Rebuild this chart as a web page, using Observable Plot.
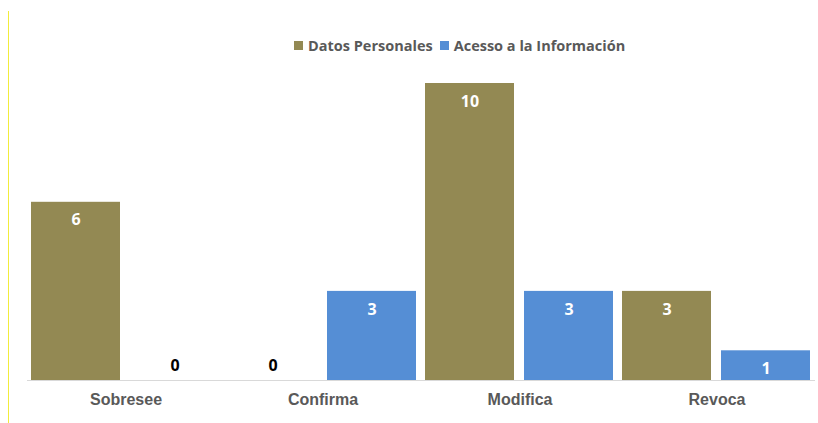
<!DOCTYPE html>
<html>
<head>
<meta charset="utf-8">
<script src="https://cdn.jsdelivr.net/npm/d3@7"></script>
<script src="https://cdn.jsdelivr.net/npm/@observablehq/plot@0.6"></script>
<style>
  html, body { margin: 0; padding: 0; background: #fff; }
  #wrap { position: relative; width: 818px; height: 423px; overflow: hidden; }
  #vline { position: absolute; left: 8px; top: 11px; width: 1px; height: 412px; background: #f2ec3c; }
  #legend { height: 60px; position: relative; font-family: "Open Sans", sans-serif; font-weight: 700; font-size: 14.5px; color: #595959; }
  #legend .items { position: absolute; left: 294px; top: 36px; display: flex; align-items: center; white-space: nowrap; }
  #legend .sw { width: 9px; height: 9px; display: inline-block; margin-right: 5px; }
  #legend .it { display: flex; align-items: center; margin-right: 7px; }
  #chart svg { display: block; }
</style>
</head>
<body>
<div id="wrap">
  <div id="vline"></div>
  <div id="legend"><div class="items"></div></div>
  <div id="chart"></div>
</div>
<script>
const categories = ["Sobresee", "Confirma", "Modifica", "Revoca"];
const series = ["Datos Personales", "Acesso a la Información"];
const datosPersonales = [6, 0, 10, 3];
const accesoInformacion = [0, 3, 3, 1];
const colors = ["#938953", "#558ED5"];

const data = categories.flatMap((c, i) => [
  {cat: c, serie: series[0], value: datosPersonales[i]},
  {cat: c, serie: series[1], value: accesoInformacion[i]}
]);

// legend
const items = document.querySelector("#legend .items");
series.forEach((s, i) => {
  const it = document.createElement("span");
  it.className = "it";
  const sw = document.createElement("span");
  sw.className = "sw";
  sw.style.background = colors[i];
  it.appendChild(sw);
  it.appendChild(document.createTextNode(s));
  items.appendChild(it);
});

const chart = Plot.plot({
  width: 818,
  height: 363,
  marginLeft: 25,
  marginRight: 2,
  marginTop: 23,
  marginBottom: 43,
  style: {fontFamily: "'Liberation Sans', Arial, sans-serif", background: "transparent"},
  fx: {domain: categories, padding: 0, label: null},
  x: {domain: series, axis: null, paddingInner: 0.1, paddingOuter: 0.04},
  y: {domain: [0, 10], axis: null},
  color: {domain: series, range: colors},
  marks: [
    Plot.barY(data, {fx: "cat", x: "serie", y: "value", fill: "serie"}),
    Plot.ruleY([0], {stroke: "#d9d9d9", strokeWidth: 1}),
    Plot.text(data.filter(d => d.value > 0), {
      fx: "cat", x: "serie", y: "value", text: d => String(d.value),
      dy: 18, fill: "white", fontWeight: "bold", fontSize: 16, fontFamily: "'Open Sans', sans-serif"
    }),
    Plot.text(data.filter(d => d.value === 0), {
      fx: "cat", x: "serie", y: "value", text: d => String(d.value),
      dy: -15, fill: "black", fontWeight: "bold", fontSize: 16, fontFamily: "'Open Sans', sans-serif"
    }),
    Plot.axisFx({anchor: "bottom", tickSize: 0, tickPadding: 13, label: null,
      fontSize: 16, fontWeight: "bold", fill: "#595959"})
  ]
});
document.getElementById("chart").appendChild(chart);
</script>
</body>
</html>
